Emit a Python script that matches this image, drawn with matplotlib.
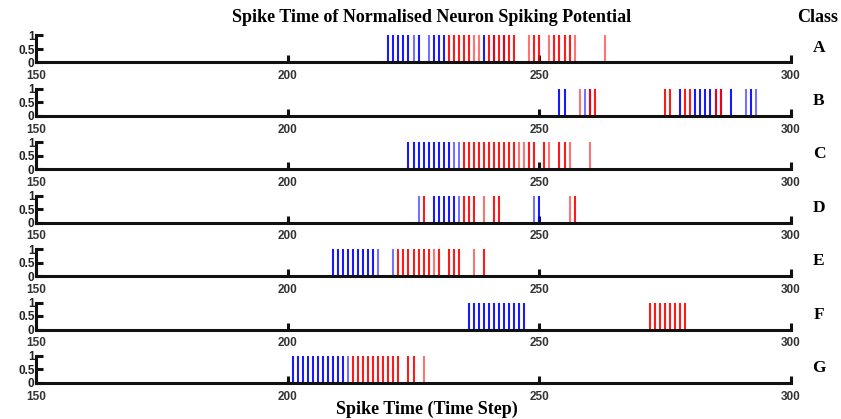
import numpy as np
import matplotlib
matplotlib.use('Agg')
import matplotlib.pyplot as plt

# spike times per class (blue = first neuron, red = second neuron)
classes = ['A', 'B', 'C', 'D', 'E', 'F', 'G']

blue_spikes = {
    'A': [220, 221, 222, 223, 224, 225, 226, 228, 229, 230, 231, 239, 241, 243],
    'B': [254, 255, 259, 260, 278, 281, 282, 283, 284, 285, 286, 288, 291, 292, 293],
    'C': [224, 225, 226, 227, 228, 229, 230, 231, 232, 233, 234],
    'D': [226, 229, 230, 231, 232, 233, 234, 249, 250],
    'E': [209, 210, 211, 212, 213, 214, 215, 216, 217, 218, 221],
    'F': [236, 237, 238, 239, 240, 241, 242, 243, 244, 245, 246, 247],
    'G': [201, 202, 203, 204, 205, 206, 207, 208, 209, 210, 211, 212],
}
red_spikes = {
    'A': [232, 233, 234, 235, 236, 237, 238, 240, 241, 242, 243, 244, 245,
          248, 249, 250, 252, 253, 254, 255, 256, 257, 263],
    'B': [258, 260, 261, 275, 276, 279, 280, 285, 286],
    'C': [235, 236, 237, 238, 239, 240, 241, 242, 243, 244, 245, 246, 247,
          248, 249, 251, 252, 254, 255, 256, 260],
    'D': [227, 235, 236, 237, 239, 241, 242, 256, 257],
    'E': [222, 223, 224, 225, 226, 227, 228, 229, 230, 232, 233, 234, 237, 239],
    'F': [272, 273, 274, 275, 276, 277, 278, 279],
    'G': [213, 214, 215, 216, 217, 218, 219, 220, 221, 222, 224, 225, 227],
}
# spikes drawn fainter (lower normalised potential)
faint_blue = {
    'A': [225, 228], 'B': [259, 291, 293], 'C': [233, 234],
    'D': [226, 234, 249], 'E': [218, 221], 'F': [], 'G': [212],
}
faint_red = {
    'A': [237, 238, 248, 252, 257, 263], 'B': [258], 'C': [246, 247, 252, 256, 260],
    'D': [239, 256], 'E': [229, 237], 'F': [], 'G': [227],
}

xticks = [150, 200, 250, 300]
yticks = [0, 0.5, 1]
ytick_labels = ['0', '0.5', '1']

W, H = 841, 419
fig = plt.figure(figsize=(W / 100, H / 100), dpi=100)

left_px, right_px = 36, 791
ax_h = 27
bases = [62.5 + 53.4 * i for i in range(len(classes))]

serif = ['Liberation Serif', 'DejaVu Serif']
sans = ['Liberation Sans', 'DejaVu Sans']

for cls, base in zip(classes, bases):
    ax = fig.add_axes([left_px / W, 1 - base / H, (right_px - left_px) / W, ax_h / H])
    for times, faint, col in [(blue_spikes[cls], faint_blue[cls], 'blue'),
                              (red_spikes[cls], faint_red[cls], 'red')]:
        alphas = [0.55 if t in faint else 0.9 for t in times]
        for t, a in zip(times, alphas):
            ax.vlines(t, 0, 1, colors=col, alpha=a, linewidth=1.5)
    ax.set_xlim(150, 300)
    ax.set_ylim(0, 1)
    ax.set_xticks(xticks)
    ax.set_yticks(yticks)
    ax.set_yticklabels(ytick_labels)
    for s in ['top', 'right']:
        ax.spines[s].set_visible(False)
    for s in ['left', 'bottom']:
        ax.spines[s].set_linewidth(2.2)
        ax.spines[s].set_color('#111111')
    ax.tick_params(direction='in', length=5, width=2.2, color='#111111')
    ax.tick_params(axis='x', pad=5.5)
    ax.tick_params(axis='y', pad=1)
    for lab in ax.get_xticklabels():
        lab.set_fontfamily(sans)
        lab.set_fontweight('bold')
        lab.set_fontsize(8.5)
        lab.set_color('#333333')
    for lab in ax.get_yticklabels():
        lab.set_fontfamily(sans)
        lab.set_fontweight('bold')
        lab.set_fontsize(8.5)
        lab.set_color('#222222')
    ax.patch.set_alpha(0)
    fig.text(819 / W, 1 - (base - 15) / H, cls, ha='center', va='center',
             fontsize=12.5, fontweight='bold', family=serif)

fig.text(432 / W, 1 - 17 / H, 'Spike Time of Normalised Neuron Spiking Potential',
         ha='center', va='center', fontsize=13, fontweight='bold', family=serif)
fig.text(818 / W, 1 - 17 / H, 'Class', ha='center', va='center',
         fontsize=13, fontweight='bold', family=serif)
fig.text(427 / W, 1 - 409 / H, 'Spike Time (Time Step)', ha='center', va='center',
         fontsize=13, fontweight='bold', family=serif)

fig.savefig('out.png', dpi=100)
